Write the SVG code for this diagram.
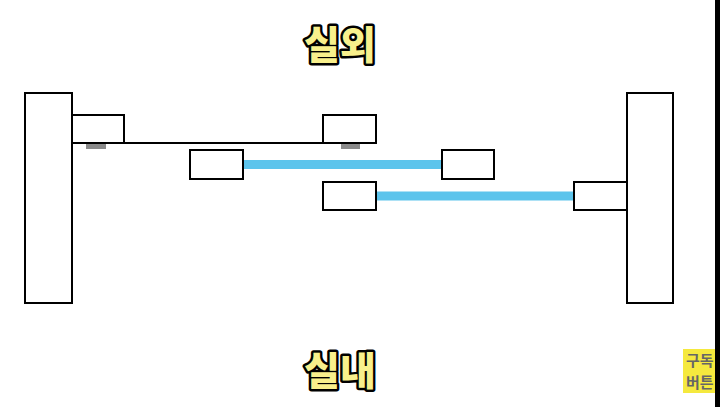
<svg xmlns="http://www.w3.org/2000/svg" width="720" height="407" viewBox="0 0 720 407">
<style>
.box{fill:#fff;stroke:#000;stroke-width:2}
.pipe{stroke:#5cc4ec;stroke-width:9}
.mark{fill:#8a8a8a}
.title{font-family:"Noto Sans CJK KR",sans-serif;font-weight:900;font-size:39px;fill:#f8f08c;stroke:#000;stroke-width:5;paint-order:stroke;stroke-linejoin:round;text-anchor:middle}
.corner{font-family:"Noto Sans CJK KR",sans-serif;font-weight:700;font-size:15px;fill:#666}
</style>
<rect width="720" height="407" fill="#fff"/>
<g id="connectors">
<line x1="72" y1="143" x2="323" y2="143" stroke="#000" stroke-width="2"/>
<line class="pipe" x1="243" y1="164.5" x2="442" y2="164.5"/>
<line class="pipe" x1="376" y1="196" x2="574" y2="196"/>
</g>
<g id="wall-left"><rect class="box" x="25" y="93" width="47" height="210"/></g>
<g id="wall-right"><rect class="box" x="627" y="93" width="46" height="210"/></g>
<g id="box-a"><rect class="box" x="72" y="115" width="52" height="28"/><rect class="mark" x="86" y="144" width="20" height="5"/></g>
<g id="box-b"><rect class="box" x="323" y="115" width="53" height="28"/><rect class="mark" x="341" y="144" width="19" height="5"/></g>
<g id="box-c"><rect class="box" x="190" y="150" width="53" height="29"/></g>
<g id="box-d"><rect class="box" x="442" y="150" width="52" height="29"/></g>
<g id="box-e"><rect class="box" x="323" y="182" width="53" height="28"/></g>
<g id="box-f"><rect class="box" x="574" y="182" width="53" height="28"/></g>
<text class="title" x="340" y="59">실외</text>
<text class="title" x="340" y="385">실내</text>
<g id="corner">
<rect x="683" y="349" width="40" height="44" fill="#f5e93e"/>
<text class="corner" x="686" y="366">구독</text>
<text class="corner" x="686" y="388">버튼</text>
</g>
<rect x="715" y="0" width="5" height="407" fill="#000"/>
</svg>
